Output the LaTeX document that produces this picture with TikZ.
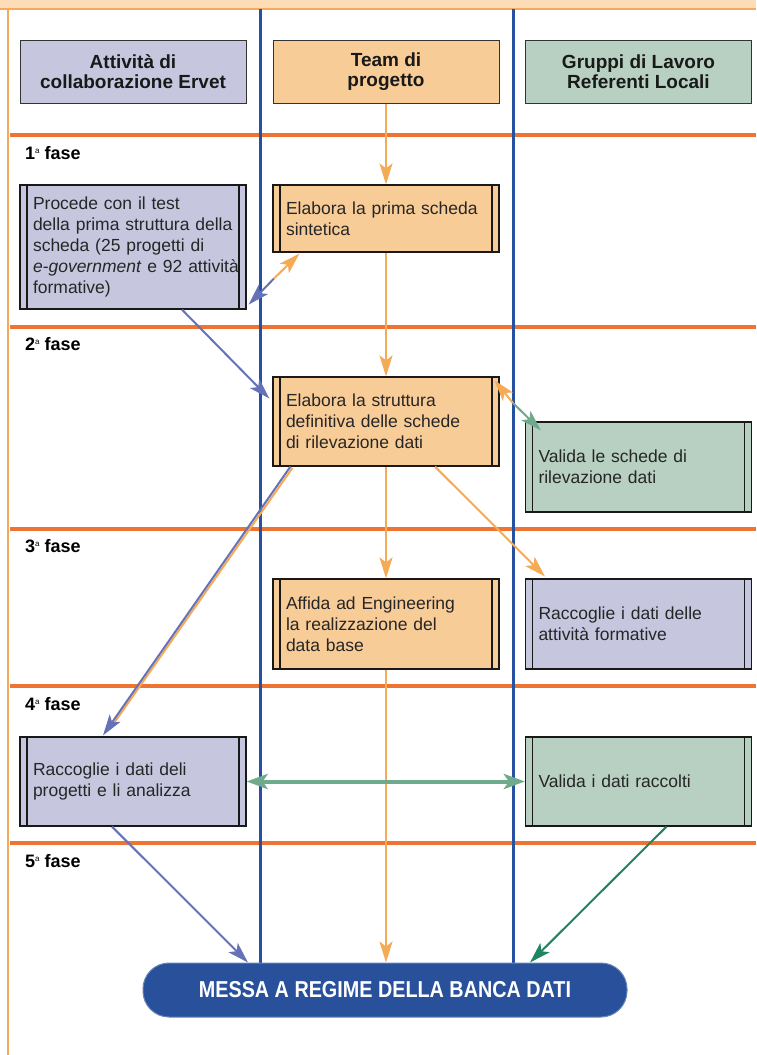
\documentclass[tikz,border=0pt]{standalone}
\usepackage{fontspec}
\setmainfont{Liberation Sans}
\newfontfamily\pillfont[FakeStretch=0.86]{Liberation Sans}
\usetikzlibrary{arrows.meta,calc}
\definecolor{lav}{HTML}{C6C7DF}
\definecolor{org}{HTML}{F8CC97}
\definecolor{grn}{HTML}{B7D0C1}
\definecolor{peach}{HTML}{FCDDB8}
\definecolor{lorange}{HTML}{F5A95A}
\definecolor{fase}{HTML}{EE7433}
\definecolor{lane}{HTML}{2850A0}
\definecolor{oarr}{HTML}{F5AA55}
\definecolor{barr}{HTML}{6672B8}
\definecolor{garr}{HTML}{6FAA8C}
\definecolor{dgarr}{HTML}{1F8462}
\definecolor{pillblue}{HTML}{28509B}
\begin{document}
\begin{tikzpicture}[x=1pt,y=-1pt,
  hdr/.style={draw=black!80, line width=1pt, minimum width=226pt, minimum height=63pt,
    align=center, inner sep=0pt, font=\fontsize{19}{20.5}\selectfont\bfseries, text=black!90},
  proc/.style={draw=black!90, line width=1.2pt, text width=200pt, inner xsep=13pt, inner ysep=0pt,
    align=left, font=\fontsize{17.5}{21}\selectfont, text=black!85,
    path picture={
      \draw[line width=1.2pt] ([xshift=7pt]path picture bounding box.north west) -- ([xshift=7pt]path picture bounding box.south west);
      \draw[line width=1.2pt] ([xshift=-7pt]path picture bounding box.north east) -- ([xshift=-7pt]path picture bounding box.south east);}},
  faselbl/.style={anchor=west, inner sep=0pt, font=\fontsize{18}{20}\selectfont\bfseries},
  tip/.style={-{Stealth[length=21pt,width=13pt,inset=5pt]}},
  oarrow/.style={tip, draw=oarr, line width=2pt},
  barrow/.style={tip, draw=barr, line width=2pt},
  garrow/.style={tip, draw=garr, line width=2pt},
  dgarrow/.style={tip, draw=dgarr, line width=2pt},
  pill/.style={fill=pillblue, draw=pillblue!70!white, line width=1pt, rounded corners=26pt,
    minimum width=484pt, minimum height=54pt, text=white, inner sep=0pt,
    font=\pillfont\fontsize{23}{25}\selectfont\bfseries}
]
\useasboundingbox (0,0) rectangle (756,1055);
\fill[white] (0,0) rectangle (756,1055);
% frame
\fill[peach] (0,0) rectangle (756,8);
\draw[lorange, line width=2.5pt] (0,9) -- (756,9);
\draw[lorange, line width=2.5pt] (8,9) -- (8,1055);
% phase lines
\foreach \yy in {135,326.5,528.5,686,843}
  \draw[fase, line width=4pt] (9.5,\yy) -- (756,\yy);
% lanes
\draw[lane, line width=3pt] (260,9) -- (260,963);
\draw[lane, line width=3pt] (513,9) -- (513,963);
% phase labels
\node[faselbl] (f1) at (25,153) {1{\fontsize{8}{8}\selectfont\mdseries\raisebox{6pt}{a}} fase};
\node[faselbl] (f2) at (25,344) {2{\fontsize{8}{8}\selectfont\mdseries\raisebox{6pt}{a}} fase};
\node[faselbl] (f3) at (25,546) {3{\fontsize{8}{8}\selectfont\mdseries\raisebox{6pt}{a}} fase};
\node[faselbl] (f4) at (25,704) {4{\fontsize{8}{8}\selectfont\mdseries\raisebox{6pt}{a}} fase};
\node[faselbl] (f5) at (25,861) {5{\fontsize{8}{8}\selectfont\mdseries\raisebox{6pt}{a}} fase};
% headers
\node[hdr, fill=lav] (h1) at (133,71.5) {Attività di\\collaborazione Ervet};
\node[hdr, fill=org] (h2) at (386,71.5) {Team di\\progetto};
\node[hdr, fill=grn] (h3) at (638.5,71.5) {Gruppi di Lavoro\\Referenti Locali};
% process boxes
\node[proc, fill=lav, minimum height=124pt] (p1) at (133,247) {Procede con il test\\\mbox{della prima struttura della}\\scheda (25 progetti di\\\mbox{\textit{e-government} e 92 attività}\\formative)};
\node[proc, fill=org, minimum height=67pt] (p2) at (386,218.5) {Elabora la prima scheda\\sintetica};
\node[proc, fill=org, minimum height=89pt] (p3) at (386,421.5) {Elabora la struttura\\definitiva delle schede\\di rilevazione dati};
\node[proc, fill=grn, minimum height=90pt] (p4) at (638.5,467) {Valida le schede di\\rilevazione dati};
\node[proc, fill=org, minimum height=90pt] (p5) at (386,624) {Affida ad Engineering\\la realizzazione del\\data base};
\node[proc, fill=lav, minimum height=90pt] (p6) at (638.5,624) {Raccoglie i dati delle\\attività formative};
\node[proc, fill=lav, minimum height=89pt] (p7) at (133,781.5) {Raccoglie i dati deli\\progetti e li analizza};
\node[proc, fill=grn, minimum height=89pt] (p8) at (638.5,781.5) {Valida i dati raccolti};
% final
\node[pill] (db) at (385,990) {MESSA A REGIME DELLA BANCA DATI};
% vertical flow
\draw[oarrow] (h2) -- (p2);
\draw[oarrow] (p2) -- (p3);
\draw[oarrow] (p3) -- (p5);
\draw[oarrow] (p5) -- (p5 |- db.north);
% p1 <-> p2
\coordinate (m12) at (274,278.5);
\coordinate (t1) at ([xshift=2pt,yshift=5pt]p1.south east);
\coordinate (t2) at ([xshift=27pt,yshift=-1pt]p2.south west);
\draw[barrow] (m12) -- (t1);
\draw[oarrow] (m12) -- (t2);
% p1 -> p3
\draw[barrow] ([xshift=49pt]p1.south) -- ([xshift=-3pt,yshift=23pt]p3.west);
% p3 <-> p4
\coordinate (m34) at (513,403);
\coordinate (t3) at ([xshift=-5pt,yshift=-4pt]p3.north east);
\coordinate (t4) at ([xshift=16pt,yshift=-9pt]p4.north west);
\draw[oarrow] (m34) -- (t3);
\draw[garrow] (m34) -- (t4);
% p3 -> p6
\draw[oarrow] ([xshift=49pt]p3.south) -- ([xshift=20pt,yshift=2pt]p6.north west);
% p3 -> p7 (double coloured)
\draw[oarr, line width=2pt] ([xshift=20pt,yshift=-1.3pt]p3.south west) -- ([xshift=-22pt,yshift=9pt]p7.north);
\draw[barrow] ([xshift=18pt]p3.south west) -- ([xshift=-30pt,yshift=1pt]p7.north);
% p7 <-> p8
\draw[garr, line width=4pt, {Stealth[length=21pt,width=15pt,inset=5pt]}-{Stealth[length=21pt,width=15pt,inset=5pt]}] (p7) -- (p8);
% to final
\draw[barrow] ([xshift=-21pt]p7.south) -- ([xshift=-137pt]db.north);
\draw[dgarrow] ([xshift=28pt]p8.south) -- ([xshift=145pt]db.north);
\end{tikzpicture}
\end{document}
